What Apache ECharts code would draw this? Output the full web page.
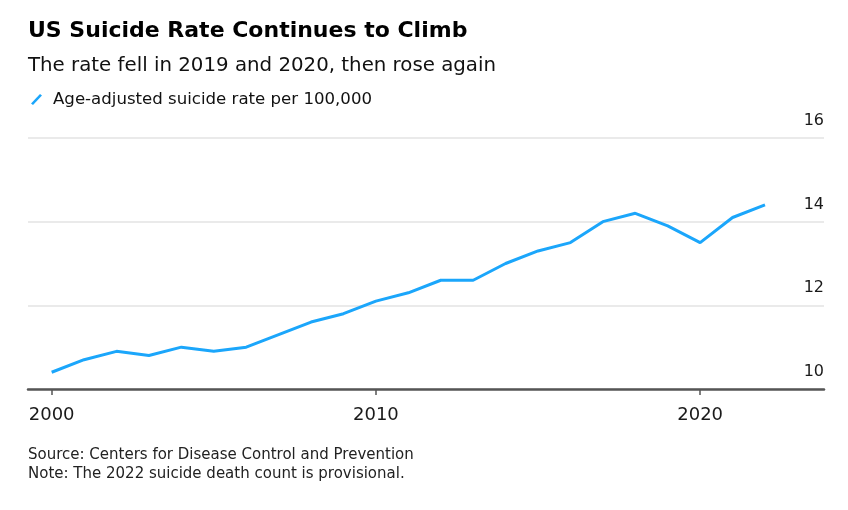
<!DOCTYPE html>
<html>
<head>
<meta charset="utf-8">
<script src="https://cdn.jsdelivr.net/npm/echarts@6/dist/echarts.min.js"></script>
<style>
html,body{margin:0;padding:0;background:#fff;}
#chart{width:848px;height:510px;}
</style>
</head>
<body>
<div id="chart"></div>
<script>
const years = [2000,2001,2002,2003,2004,2005,2006,2007,2008,2009,2010,2011,2012,2013,2014,2015,2016,2017,2018,2019,2020,2021,2022];
const rates = [10.4,10.7,10.9,10.8,11.0,10.9,11.0,11.3,11.6,11.8,12.1,12.3,12.6,12.6,13.0,13.3,13.5,14.0,14.2,13.9,13.5,14.1,14.4];
const xTicks = [2000,2010,2020];
const yTicks = [10,12,14,16];
const seriesName = 'Age-adjusted suicide rate per 100,000';

const FONT = '"DejaVu Sans", "Liberation Sans", Arial, sans-serif';
const chart = echarts.init(document.getElementById('chart'), null, {renderer:'canvas'});
chart.setOption({
  animation:false,
  backgroundColor:'#ffffff',
  title:[
    {text:'US Suicide Rate Continues to Climb', left:23, top:13, padding:5,
     textStyle:{fontFamily:FONT, fontWeight:'bold', fontSize:22, color:'#000', lineHeight:26}},
    {text:'The rate fell in 2019 and 2020, then rose again', left:23, top:49, padding:5,
     textStyle:{fontFamily:FONT, fontWeight:'normal', fontSize:19.8, color:'#111', lineHeight:24}},
    {text:'Source: Centers for Disease Control and Prevention\nNote: The 2022 suicide death count is provisional.', left:23, top:441, padding:5,
     textStyle:{fontFamily:FONT, fontWeight:'normal', fontSize:15, color:'#222', lineHeight:18.5}}
  ],
  legend:{
    left:26, top:86, itemWidth:11, itemHeight:11, itemGap:8,
    icon:'path://M0,9.5 L9,0 L11,1.5 L2,11 Z',
    textStyle:{fontFamily:FONT, fontSize:16.6, color:'#111', padding:[0,0,0,6]},
    data:[seriesName]
  },
  grid:{left:28, right:24, top:138, bottom:121, containLabel:false},
  xAxis:{
    type:'value', min:1999.27, max:2023.82,
    axisLine:{show:true, lineStyle:{color:'#555', width:2.5}},
    axisTick:{show:true, length:6, lineStyle:{color:'#555', width:1.5}, customValues:xTicks},
    axisLabel:{show:true, customValues:xTicks, margin:17, fontFamily:FONT, fontSize:18, color:'#1a1a1a',
      formatter:function(v){return String(Math.round(v));}},
    splitLine:{show:false}
  },
  yAxis:{
    type:'value', position:'right', min:10, max:16, interval:2,
    axisLine:{show:false}, axisTick:{show:false},
    axisLabel:{inside:true, margin:0, fontFamily:FONT, fontSize:16, color:'#1a1a1a', verticalAlign:'bottom', padding:[0,0,9,0]},
    splitLine:{show:true, lineStyle:{color:'#e3e3e3', width:1.5}}
  },
  series:[{
    name:seriesName, type:'line',
    data:years.map((y,i)=>[y,rates[i]]),
    showSymbol:false, symbol:'none',
    lineStyle:{color:'#1ba6fb', width:3},
    itemStyle:{color:'#1ba6fb'}
  }]
});
</script>
</body>
</html>
